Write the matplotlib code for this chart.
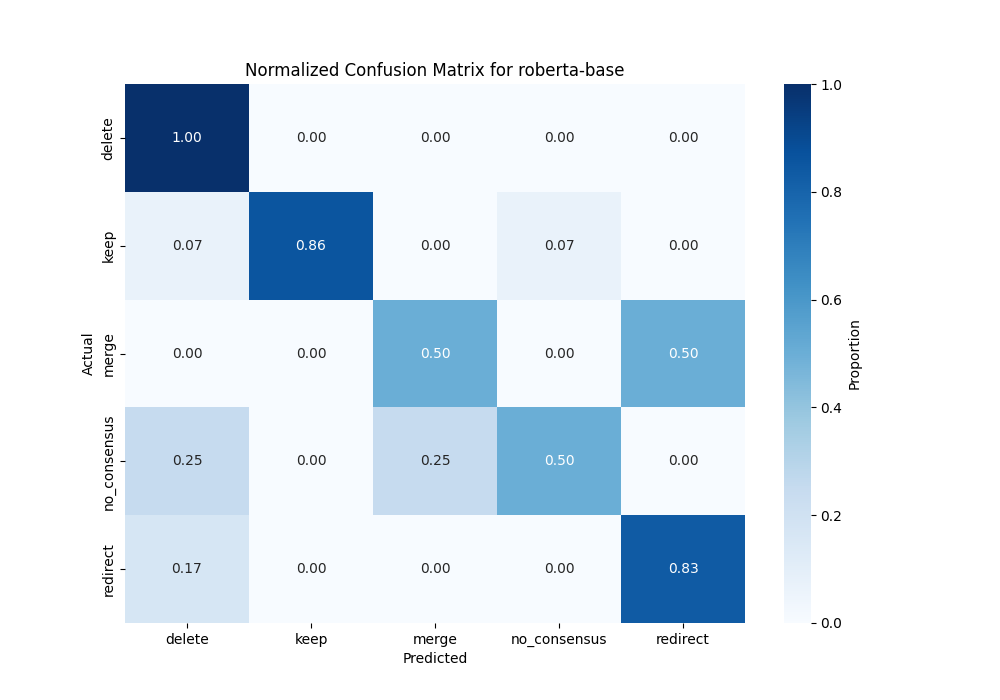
import matplotlib
matplotlib.use("Agg")
import matplotlib.pyplot as plt
import seaborn as sns
import numpy as np

labels = ["delete", "keep", "merge", "no_consensus", "redirect"]
row_delete = [1.00, 0.00, 0.00, 0.00, 0.00]
row_keep = [0.071, 0.857, 0.00, 0.071, 0.00]
row_merge = [0.00, 0.00, 0.50, 0.00, 0.50]
row_no_consensus = [0.25, 0.00, 0.25, 0.50, 0.00]
row_redirect = [0.167, 0.00, 0.00, 0.00, 0.833]

matrix = np.array([row_delete, row_keep, row_merge, row_no_consensus, row_redirect])

fig, ax = plt.subplots(figsize=(10, 7), dpi=100)
sns.heatmap(matrix, annot=True, fmt=".2f", cmap="Blues",
            xticklabels=labels, yticklabels=labels,
            cbar_kws={"label": "Proportion"}, ax=ax)
ax.set_title("Normalized Confusion Matrix for roberta-base")
ax.set_xlabel("Predicted")
ax.set_ylabel("Actual")
fig.savefig("out.png", dpi=100)
